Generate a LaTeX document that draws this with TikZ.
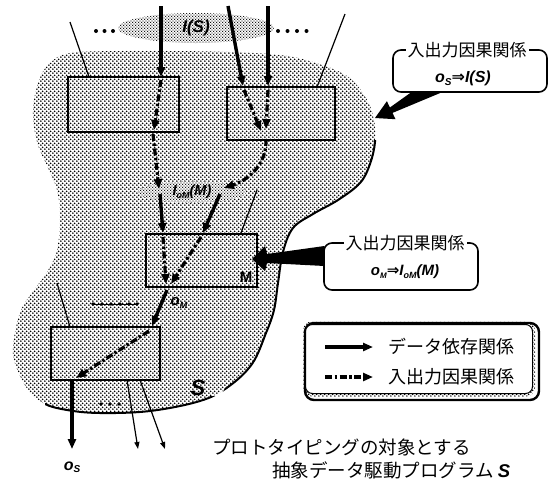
\documentclass[tikz,border=0pt]{standalone}
\usepackage{fontspec}
\setmainfont{Liberation Sans}
\newfontfamily\jp{Noto Sans CJK JP}
\newfontfamily\sym{DejaVu Sans}
\usetikzlibrary{arrows.meta,patterns.meta,shapes.geometric}

\tikzdeclarepattern{
  name=halftone,
  type=uncolored,
  bounding box={(0pt,0pt) and (4.2pt,4.2pt)},
  tile size={(4.2pt,4.2pt)},
  code={
    \fill (1.05pt,1.05pt) circle (1.05pt);
    \fill (3.15pt,3.15pt) circle (1.05pt);
  }
}
\tikzdeclarepattern{
  name=finetone,
  type=uncolored,
  bounding box={(0pt,0pt) and (2.8pt,2.8pt)},
  tile size={(2.8pt,2.8pt)},
  code={
    \fill (0.7pt,0.7pt) circle (0.68pt);
    \fill (2.1pt,2.1pt) circle (0.68pt);
  }
}

\tikzset{
  modbox/.style={draw, line width=1.8pt, rectangle, inner sep=0pt},
  data/.style={line width=3.4pt, -{Triangle[length=10pt,width=8pt]}},
  cause/.style={line width=3.2pt, dash pattern=on 7pt off 2.5pt on 2.5pt off 2.5pt, -{Triangle[length=10pt,width=8pt]}},
  thin/.style={line width=1.2pt},
  thinarrow/.style={line width=1.2pt, -{Triangle[length=7pt,width=5pt]}},
  callout/.style={draw, line width=1.6pt, rounded corners=8pt, rectangle, inner sep=0pt},
  lbl/.style={font=\bfseries\itshape, inner sep=0pt},
  jptxt/.style={inner sep=0pt},
}

\begin{document}
\begin{tikzpicture}[x=1pt,y=-1pt]
\useasboundingbox (0,0) rectangle (549,480);

% ---------- blob S
\def\blobpath{plot[smooth cycle,tension=0.6] coordinates {(50,63) (70,53) (120,51) (170,51) (230,52) (280,55) (313,62) (347,76) (366,98) (374,120) (375,142) (370,164) (360,183) (338,200) (313,214) (293,228) (283,252) (278,283) (274,310) (266,333) (252,364) (228,387) (200,401) (150,411) (100,413) (67,410) (43,403) (26,387) (14,360) (14,338) (21,310) (34,290) (47,272) (57,250) (60,217) (57,190) (48,168) (37,142) (33,110) (39,80)}}
\fill[pattern=halftone, pattern color=black] \blobpath;
\begin{scope}
  \clip (330,140) -- (549,140) -- (549,480) -- (45,480) -- (45,396) -- (220,396) -- (250,350) -- (265,300) -- (275,250) -- (300,200) -- cycle;
  \draw[line width=2pt] \blobpath;
\end{scope}

% ---------- ellipses
\node[ellipse, minimum width=156pt, minimum height=30pt, pattern=finetone, pattern color=black,
      font=\fontsize{17}{17}\selectfont\bfseries\itshape, inner sep=0pt] (IS) at (196,28) {I(S)};
\node[ellipse, minimum width=108pt, minimum height=21pt, preaction={fill=white}, pattern=finetone, pattern color=black,
      font=\fontsize{14.5}{14.5}\selectfont\bfseries\itshape, inner sep=0pt] (IoM) at (192,192)
      {I\raisebox{-2.5pt}{\fontsize{9}{9}\selectfont oM}(M)};

% dots
\foreach \x in {96,104.5,113} \fill (\x,31) circle (2);
\foreach \x in {278,287.5,297,306.5} \fill (\x,31) circle (2);
\draw[line width=0.8pt] (93,304) -- (137,304);
\foreach \x in {93,102,111,120,129,137} \fill (\x,304) circle (1.8);
\foreach \x in {101,110,119} \fill (\x,404) circle (1.8);

% ---------- module boxes
\node[modbox, minimum width=111pt, minimum height=55pt] (A) at (123.5,104.5) {};
\node[modbox, minimum width=108pt, minimum height=53pt] (B) at (281,113.5) {};
\node[modbox, minimum width=111pt, minimum height=53pt] (M) at (201.5,260.5) {};
\node[modbox, minimum width=109pt, minimum height=53pt] (D) at (105.5,353.5) {};
\node[font=\fontsize{15}{15}\selectfont\bfseries, inner sep=0pt] (Mlbl) at (246,277) {M};

% ---------- coordinates
\coordinate (inL) at (161,6);    \coordinate (aIn) at (161,77);
\coordinate (aIn2) at (161,80);  \coordinate (aOut) at (154,130);
\coordinate (aOut2) at (153,134);\coordinate (mInL) at (159,189);
\coordinate (mInL2) at (160,194);\coordinate (mTopL) at (163,233);
\coordinate (mTopL2) at (163,237);\coordinate (oM) at (166,284);
\coordinate (inR1) at (268,6);   \coordinate (bTopR) at (268,86);
\coordinate (bTopR2) at (268,90);\coordinate (bOut) at (266,129);
\coordinate (inR2) at (228,6);   \coordinate (bTopL) at (243,86);
\coordinate (bTopL2) at (244,90);\coordinate (bOut2) at (261,131);
\coordinate (bOut3) at (266,139);\coordinate (mInR) at (224,188);
\coordinate (mInR2) at (220,194);\coordinate (mTopR) at (203,233);
\coordinate (mTopR2) at (201,237);\coordinate (oM2) at (171,284);
\coordinate (oMout) at (167,290);\coordinate (dTop) at (152,326);
\coordinate (dTop2) at (149,331);\coordinate (dOut) at (76,378);
\coordinate (dOut2) at (72,381); \coordinate (osEnd) at (72,449);

\coordinate (t1a) at (70,22);   \coordinate (t1b) at (89,77);
\coordinate (t2a) at (345,14);  \coordinate (t2b) at (317,87);
\coordinate (t3a) at (257,190); \coordinate (t3b) at (241,233);
\coordinate (t4a) at (57,283);  \coordinate (t4b) at (70,327);
\coordinate (t5a) at (127,380); \coordinate (t5b) at (138,449);
\coordinate (t6a) at (140,380); \coordinate (t6b) at (165,449);

% ---------- thin lines
\draw[thin] (t1a) -- (t1b);
\draw[thin] (t2a) -- (t2b);
\draw[thin] (t3a) -- (t3b);
\draw[thin] (t4a) -- (t4b);
\draw[thinarrow] (t5a) -- (t5b);
\draw[thinarrow] (t6a) -- (t6b);

% ---------- data / causality arrows
\draw[data] (inL) -- (aIn);
\draw[cause] (aIn2) -- (aOut);
\draw[cause] (aOut2) -- (mInL);
\draw[data] (mInL2) -- (mTopL);
\draw[cause] (mTopL2) -- (oM);

\draw[data] (inR1) -- (bTopR);
\draw[cause] (bTopR2) -- (bOut);
\draw[data] (inR2) -- (bTopL);
\draw[cause] (bTopL2) -- (bOut2);
\draw[cause] (bOut3) .. controls (267,165) and (248,180) .. (mInR);
\draw[data] (mInR2) -- (mTopR);
\draw[cause] (mTopR2) -- (oM2);

\draw[data] (oMout) -- (dTop);
\draw[cause] (dTop2) -- (dOut);
\draw[data] (dOut2) -- (osEnd);

% labels
\node[lbl, font=\fontsize{15}{15}\selectfont\bfseries\itshape] (oMlbl) at (179,303) {o\raisebox{-2.5pt}{\fontsize{9}{9}\selectfont M}};
\node[lbl, font=\fontsize{22}{22}\selectfont\bfseries\itshape] (Slbl) at (198,388) {S};
\node[lbl, font=\fontsize{16}{16}\selectfont\bfseries\itshape] (oSlbl) at (72,467) {o\raisebox{-2.5pt}{\fontsize{10}{10}\selectfont S}};

% ---------- callout 1
\node[callout, minimum width=154pt, minimum height=42pt] (c1) at (470,71) {};
\node[jptxt, fill=white, inner xsep=2pt, font=\fontsize{17}{17}\selectfont\jp] (c1t) at (467,50) {入出力因果関係};
\node[lbl, font=\fontsize{16}{16}\selectfont\bfseries\itshape] (c1b) at (463,78)
  {o\raisebox{-3pt}{\fontsize{10}{10}\selectfont S}{\sym\bfseries\upshape ⇒}I(S)};
\fill (413,91) -- (389.9,107.5) -- (386.9,101.2) -- (375,118) -- (395.5,119.2) -- (392.5,112.9) -- (445,91) -- cycle;

% ---------- callout 2
\node[callout, minimum width=154pt, minimum height=47pt] (c2) at (401,266.5) {};
\node[jptxt, fill=white, inner xsep=2pt, font=\fontsize{17}{17}\selectfont\jp] (c2t) at (405,243) {入出力因果関係};
\node[lbl, font=\fontsize{15}{15}\selectfont\bfseries\itshape] (c2b) at (405,272)
  {o\raisebox{-3pt}{\fontsize{8}{8}\selectfont M}{\sym\bfseries\upshape ⇒}I\raisebox{-3pt}{\fontsize{9}{9}\selectfont oM}(M)};
\fill (324.5,246) -- (267,254) -- (265,246) -- (252,259) -- (265,271) -- (267,263) -- (324.5,266) -- cycle;

% ---------- legend
\draw[line width=2.4pt, rounded corners=9pt] (305,323) rectangle (539,400);
\node[pattern=halftone, pattern color=black, draw=none, minimum width=232pt, minimum height=75pt, rounded corners=9pt, inner sep=0pt] (leg) at (419,359) {};
\fill[white, rounded corners=7pt] (305.5,324.5) rectangle (532.5,393.5);
\draw[line width=1pt, rounded corners=7pt] (305.5,324.5) rectangle (532.5,393.5);
\coordinate (l1a) at (325,347); \coordinate (l1b) at (373,347);
\coordinate (l2a) at (325,377); \coordinate (l2b) at (373,377);
\draw[data] (l1a) -- (l1b);
\draw[cause] (l2a) -- (l2b);
\node[jptxt, anchor=west, font=\fontsize{18}{18}\selectfont\jp] (lt1) at (388,347) {データ依存関係};
\node[jptxt, anchor=west, font=\fontsize{18}{18}\selectfont\jp] (lt2) at (388,377) {入出力因果関係};

% ---------- caption
\node[jptxt, anchor=west, font=\fontsize{18.5}{18.5}\selectfont\jp] (cap1) at (212,447) {プロトタイピングの対象とする};
\node[jptxt, anchor=west, font=\fontsize{18.5}{18.5}\selectfont\jp] (cap2) at (272,470) {抽象データ駆動プログラム\ {\rmfamily\bfseries\itshape S}};
\end{tikzpicture}
\end{document}
